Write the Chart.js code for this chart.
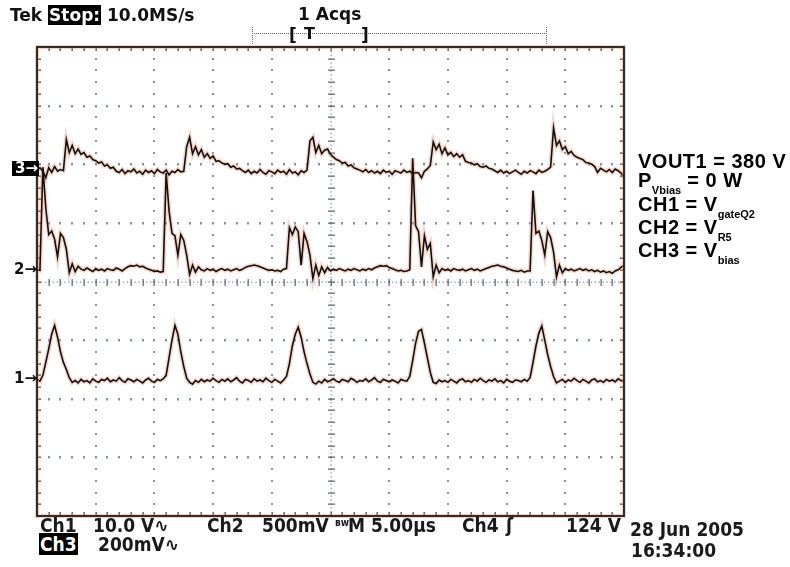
<!DOCTYPE html>
<html>
<head>
<meta charset="utf-8">
<script src="https://cdn.jsdelivr.net/npm/chart.js@4.4.1/dist/chart.umd.min.js"></script>
<style>
  body { margin: 0; background: #fff; }
  #wrap { position: relative; width: 790px; height: 567px; overflow: hidden; }
  #scope { position: absolute; left: 0; top: 0; }
  .t { position: absolute; line-height: 1; white-space: pre; color: #111; }
  .tek { font-family: "DejaVu Sans", sans-serif; font-weight: bold; font-size: 17px; }
  .bot { font-family: "DejaVu Sans Condensed", "DejaVu Sans", sans-serif; font-stretch: condensed; font-weight: bold; font-size: 19px; color: #1a1a1a; }
  .inv { background: #000; color: #fff; padding: 0 1px; }
  .note { font-family: "Liberation Sans", Arial, sans-serif; font-weight: bold; font-size: 20px; letter-spacing: 0.5px; color: #000; }
  .note .s { font-size: 11px; letter-spacing: 0; vertical-align: -7px; }
  .mark { font-family: "DejaVu Sans", sans-serif; font-weight: bold; font-size: 15px; }
</style>
</head>
<body>
<div id="wrap">
  <canvas id="scope" width="790" height="567"></canvas>

  <div class="t tek" style="left:10px; top:7px;">Tek <span class="inv">Stop:</span> 10.0MS/s</div>
  <div class="t tek" style="left:298px; top:6px; font-weight:600;">1 Acqs</div>
  <div class="t tek" style="left:289px; top:27px;">[</div>
  <div class="t tek" style="left:304px; top:26px; font-size:16px;">T</div>
  <div class="t tek" style="left:361px; top:27px;">]</div>

  <div class="t mark inv" style="left:12px; top:161px; padding:0 1px 0 3px;">3→</div>
  <div class="t mark" style="left:14px; top:262px;">2→</div>
  <div class="t mark" style="left:14px; top:371px;">1→</div>

  <div class="t bot" style="left:40px; top:516px;">Ch1</div>
  <div class="t bot" style="left:93px; top:516px;">10.0 V∿</div>
  <div class="t bot" style="left:207px; top:516px;">Ch2</div>
  <div class="t bot" style="left:262px; top:516px;">500mV</div>
  <div class="t bot" style="left:335px; top:518px; font-size:10px;">ʙᴡ</div>
  <div class="t bot" style="left:348px; top:516px;">M 5.00µs</div>
  <div class="t bot" style="left:462px; top:516px;">Ch4</div>
  <div class="t bot" style="left:506px; top:516px;">ʃ</div>
  <div class="t bot" style="left:566px; top:516px;">124 V</div>
  <div class="t bot" style="left:630px; top:520px;">28 Jun 2005</div>
  <div class="t bot" style="left:39px; top:535px;"><span class="inv">Ch3</span></div>
  <div class="t bot" style="left:98px; top:535px;">200mV∿</div>
  <div class="t bot" style="left:631px; top:541px;">16:34:00</div>

  <div class="t note" style="left:638px; top:151px;">VOUT1 = 380 V</div>
  <div class="t note" style="left:638px; top:170px;">P<span class="s">Vbias</span> = 0 W</div>
  <div class="t note" style="left:638px; top:194px;">CH1 = V<span class="s">gateQ2</span></div>
  <div class="t note" style="left:638px; top:217px;">CH2 = V<span class="s">R5</span></div>
  <div class="t note" style="left:638px; top:240px;">CH3 = V<span class="s">bias</span></div>
</div>

<script>
// osciloscopio: 10 div x 5 us, 8 div verticais, amostra a cada 0.25 us
const usPerDiv = 5;
const divsX = 10;
const divsY = 8;
const sampleUs = 0.25;

// CH1 = V gateQ2 (em divisoes)
const ch1 = [
  2.33, 2.30, 2.40, 2.62, 2.85, 3.10, 3.25, 3.05, 2.80, 2.62, 2.50, 2.36, 2.28, 2.31, 2.27, 2.33, 2.29,
  2.31, 2.27, 2.34, 2.30, 2.28, 2.33, 2.31, 2.35, 2.29, 2.32, 2.30, 2.36, 2.31, 2.28, 2.34, 2.32, 2.29,
  2.33, 2.30, 2.27, 2.32, 2.35, 2.30, 2.28, 2.33, 2.31, 2.34,
  2.40, 2.70, 3.00, 3.25, 3.10, 2.80, 2.55, 2.35, 2.28,
  2.25, 2.31, 2.28, 2.33, 2.29, 2.32, 2.30, 2.35, 2.31, 2.28, 2.33, 2.30, 2.34, 2.29, 2.32, 2.36,
  2.30, 2.27, 2.33, 2.31, 2.28, 2.34, 2.30, 2.32, 2.29, 2.35, 2.31, 2.28, 2.33, 2.30, 2.27, 2.32,
  2.38, 2.60, 2.90, 3.10, 3.22, 3.05, 2.80, 2.60, 2.42, 2.28, 2.25,
  2.30, 2.27, 2.33, 2.29, 2.31, 2.34, 2.30, 2.28, 2.33, 2.31, 2.29, 2.35, 2.32, 2.28, 2.31, 2.30,
  2.34, 2.29, 2.32, 2.36, 2.30, 2.28, 2.33, 2.31, 2.29, 2.32, 2.30, 2.27, 2.33, 2.31, 2.30,
  2.38, 2.65, 2.95, 3.15, 3.18, 2.95, 2.70, 2.45, 2.28,
  2.26, 2.32, 2.29, 2.31, 2.28, 2.33, 2.30, 2.27, 2.32, 2.34, 2.29, 2.31, 2.28, 2.33, 2.30, 2.35,
  2.31, 2.28, 2.32, 2.30, 2.34, 2.29, 2.31, 2.27, 2.33, 2.30, 2.28, 2.32, 2.31, 2.29, 2.33, 2.30,
  2.36, 2.62, 2.90, 3.12, 3.24, 3.00, 2.75, 2.55, 2.38, 2.27,
  2.30, 2.33, 2.28, 2.32, 2.30, 2.35, 2.31, 2.28, 2.33, 2.30, 2.27, 2.32, 2.34, 2.29, 2.31, 2.28,
  2.33, 2.30, 2.32, 2.29, 2.34, 2.31, 2.30
];

// CH2 = V R5
const ch2 = [
  4.20, 4.19, 5.95, 5.25, 4.80, 4.86, 4.72, 4.42, 4.82, 4.75, 4.55, 4.15, 4.30, 4.17, 4.26, 4.21,
  4.19, 4.23, 4.20, 4.17, 4.22, 4.19, 4.21, 4.18, 4.22, 4.20, 4.19, 4.23, 4.21, 4.18, 4.22, 4.25,
  4.27, 4.26, 4.28, 4.25, 4.26, 4.23, 4.21, 4.19, 4.17, 4.18, 4.16, 4.17,
  5.85, 5.20, 4.82, 4.78, 4.45, 4.80, 4.70, 4.45, 4.12, 4.28, 4.16, 4.25,
  4.20, 4.18, 4.22, 4.19, 4.21, 4.17, 4.20, 4.22, 4.19, 4.21, 4.18, 4.20, 4.22, 4.19, 4.21, 4.24,
  4.26, 4.27, 4.28, 4.27, 4.25, 4.23, 4.21, 4.19, 4.20, 4.18, 4.19, 4.17, 4.21,
  4.22, 4.92, 4.80, 4.93, 4.85, 4.28, 4.82, 4.68, 4.45, 4.05, 4.28, 4.10, 4.25, 4.15, 4.24,
  4.18, 4.21, 4.19, 4.22, 4.20, 4.18, 4.21, 4.19, 4.22, 4.20, 4.18, 4.21, 4.19, 4.22, 4.20, 4.23,
  4.25, 4.27, 4.26, 4.27, 4.24, 4.22, 4.20, 4.18, 4.19, 4.17, 4.18, 4.20,
  6.10, 4.95, 4.85, 4.25, 4.78, 4.55, 4.65, 4.08, 4.28, 4.15, 4.22,
  4.19, 4.21, 4.18, 4.22, 4.20, 4.19, 4.21, 4.18, 4.20, 4.22, 4.19, 4.21, 4.18, 4.20, 4.22, 4.24,
  4.26, 4.27, 4.28, 4.26, 4.25, 4.23, 4.21, 4.19, 4.18, 4.17, 4.19, 4.16, 4.18, 4.18,
  5.55, 4.82, 4.86, 4.70, 4.45, 4.85, 4.75, 4.50, 4.08, 4.28, 4.15, 4.22,
  4.19, 4.21, 4.18, 4.20, 4.22, 4.19, 4.21, 4.18, 4.20, 4.17, 4.19, 4.16, 4.18, 4.15, 4.17, 4.14,
  4.18, 4.20, 4.24, 4.28
];

// CH3 = V bias
const ch3 = [
  5.90, 5.94, 5.88, 5.77, 5.94, 5.86, 5.96, 5.88, 5.91, 5.89,
  6.42, 6.20, 6.32, 6.18, 6.26, 6.17, 6.20, 6.12, 6.14, 6.08, 6.06, 6.02, 6.04, 5.97, 5.99, 5.93,
  5.95, 5.88,
  5.86, 5.91, 5.84, 5.89, 5.87, 5.92, 5.85, 5.88, 5.83, 5.90, 5.86, 5.89, 5.84, 5.91, 5.87, 5.85,
  5.90, 5.82, 5.88, 5.86, 5.91, 5.87, 5.88,
  6.30, 6.46, 6.18, 6.30, 6.16, 6.25, 6.12, 6.18, 6.10, 6.14, 6.05, 6.06, 6.02, 6.00, 6.01, 5.95,
  5.97, 5.92, 5.93,
  5.89, 5.86, 5.90, 5.84, 5.88, 5.85, 5.91, 5.86, 5.83, 5.89, 5.87, 5.84, 5.90, 5.86, 5.88, 5.83,
  5.91, 5.85, 5.87, 5.82, 5.89, 5.86, 5.90,
  6.40, 6.46, 6.20, 6.32, 6.18, 6.24, 6.26, 6.17, 6.12, 6.08, 6.06, 6.02, 6.03, 5.97, 5.99, 5.94,
  5.92,
  5.90, 5.87, 5.91, 5.86, 5.89, 5.85, 5.88, 5.84, 5.90, 5.86, 5.88, 5.83, 5.89, 5.87, 5.85, 5.90,
  5.86, 5.88, 5.84, 5.86, 5.85, 5.77, 5.88, 5.92,
  5.98, 6.38, 6.25, 6.34, 6.18, 6.28, 6.16, 6.20, 6.13, 6.18, 6.12, 6.16, 6.05, 6.03, 6.02, 5.99,
  6.01, 5.96, 5.95, 5.97, 5.93, 5.92,
  5.89, 5.86, 5.90, 5.85, 5.88, 5.84, 5.87, 5.90, 5.86, 5.83, 5.88, 5.85, 5.89, 5.87, 5.84, 5.90,
  5.86, 5.88, 5.91, 5.95,
  6.62, 6.32, 6.40, 6.25, 6.30, 6.18, 6.22, 6.15, 6.12, 6.10, 6.08, 6.03, 6.02, 6.00, 5.96, 5.86,
  5.93, 5.90, 5.87, 5.91, 5.86, 5.92, 5.89, 5.85, 5.78
];

const channels = [ch1, ch2, ch3];

function pontos(valores) {
  return valores.map((v, i) => ({ x: i * sampleUs, y: v }));
}

// reticulado do Tek: pontinhos, linhas centrais e moldura
const graticule = {
  id: 'graticule',
  beforeDatasetsDraw(chart) {
    const { ctx, chartArea: a, scales: { x, y } } = chart;
    const xMid = x.getPixelForValue(divsX / 2 * usPerDiv);
    const yMid = y.getPixelForValue(divsY / 2);
    ctx.save();

    // linhas de divisao pontilhadas
    ctx.fillStyle = '#8494a4';
    for (let d = 1; d < divsX; d++) {
      if (d === divsX / 2) continue;
      const px = Math.round(x.getPixelForValue(d * usPerDiv));
      for (let k = 1; k < divsY * 5; k++) {
        const py = y.getPixelForValue(k * 0.2);
        ctx.fillRect(px - 1, Math.round(py) - 1, 2, 2);
      }
    }
    for (let d = 1; d < divsY; d++) {
      if (d === divsY / 2) continue;
      const py = Math.round(y.getPixelForValue(d));
      for (let k = 1; k < divsX * 5; k++) {
        const px = x.getPixelForValue(k * usPerDiv / 5);
        ctx.fillRect(Math.round(px) - 1, py - 1, 2, 2.5);
      }
    }

    // linhas centrais com marcas
    ctx.fillStyle = '#8495a5';
    for (let py = a.top; py < a.bottom; py += 3.9) ctx.fillRect(Math.round(xMid) - 0.5, py, 1.3, 1.3);
    for (let px = a.left; px < a.right; px += 3.9) ctx.fillRect(px, Math.round(yMid) - 0.5, 1.3, 1.3);
    ctx.fillStyle = '#5f6f7e';
    for (let k = 1; k < divsY * 5; k++) {
      const py = Math.round(y.getPixelForValue(k * 0.2));
      ctx.fillRect(Math.round(xMid) - 3, py - 0.5, 7, 1.3);
    }
    for (let k = 1; k < divsX * 5; k++) {
      const px = Math.round(x.getPixelForValue(k * usPerDiv / 5));
      ctx.fillRect(px - 0.5, Math.round(yMid) - 3, 1.3, 7);
    }

    // marcas nas bordas
    ctx.fillStyle = '#4a4a4a';
    for (let k = 1; k < divsX * 5; k++) {
      const px = Math.round(x.getPixelForValue(k * usPerDiv / 5));
      ctx.fillRect(px - 0.5, a.top, 1.3, 4);
      ctx.fillRect(px - 0.5, a.bottom - 4, 1.3, 4);
    }
    for (let k = 1; k < divsY * 5; k++) {
      const py = Math.round(y.getPixelForValue(k * 0.2));
      ctx.fillRect(a.left, py - 0.5, 4, 1.3);
      ctx.fillRect(a.right - 4, py - 0.5, 4, 1.3);
    }

    // barra do trigger acima do reticulado
    ctx.fillStyle = '#6a6a6a';
    for (let px = 252; px <= 546; px += 2) ctx.fillRect(px, 33, 1, 1);
    for (let py = 27; py <= 43; py += 2) {
      ctx.fillRect(252, py, 1, 1);
      ctx.fillRect(546, py, 1, 1);
    }
    ctx.restore();
  },
  afterDatasetsDraw(chart) {
    const { ctx, chartArea: a } = chart;
    ctx.save();
    ctx.strokeStyle = 'rgba(232,150,110,0.45)';
    ctx.lineWidth = 4;
    ctx.strokeRect(a.left, a.top, a.right - a.left, a.bottom - a.top);
    ctx.strokeStyle = '#1c1c1c';
    ctx.lineWidth = 1.8;
    ctx.strokeRect(a.left, a.top, a.right - a.left, a.bottom - a.top);
    ctx.restore();
  }
};

const datasets = [];
channels.forEach(ch => {
  datasets.push({
    data: pontos(ch),
    borderColor: '#141010',
    borderWidth: 1.6,
    order: 1
  });
  datasets.push({
    data: pontos(ch),
    borderColor: 'rgba(226,140,110,0.35)',
    borderWidth: 4.5,
    order: 2
  });
});

new Chart(document.getElementById('scope'), {
  type: 'line',
  data: { datasets: datasets },
  options: {
    responsive: false,
    animation: false,
    parsing: false,
    layout: { padding: { left: 37, top: 47, right: 166, bottom: 51 } },
    elements: { point: { radius: 0 }, line: { tension: 0 } },
    plugins: { legend: { display: false }, tooltip: { enabled: false } },
    scales: {
      x: { type: 'linear', min: 0, max: divsX * usPerDiv, display: false },
      y: { type: 'linear', min: 0, max: divsY, display: false }
    }
  },
  plugins: [graticule]
});
</script>
</body>
</html>
